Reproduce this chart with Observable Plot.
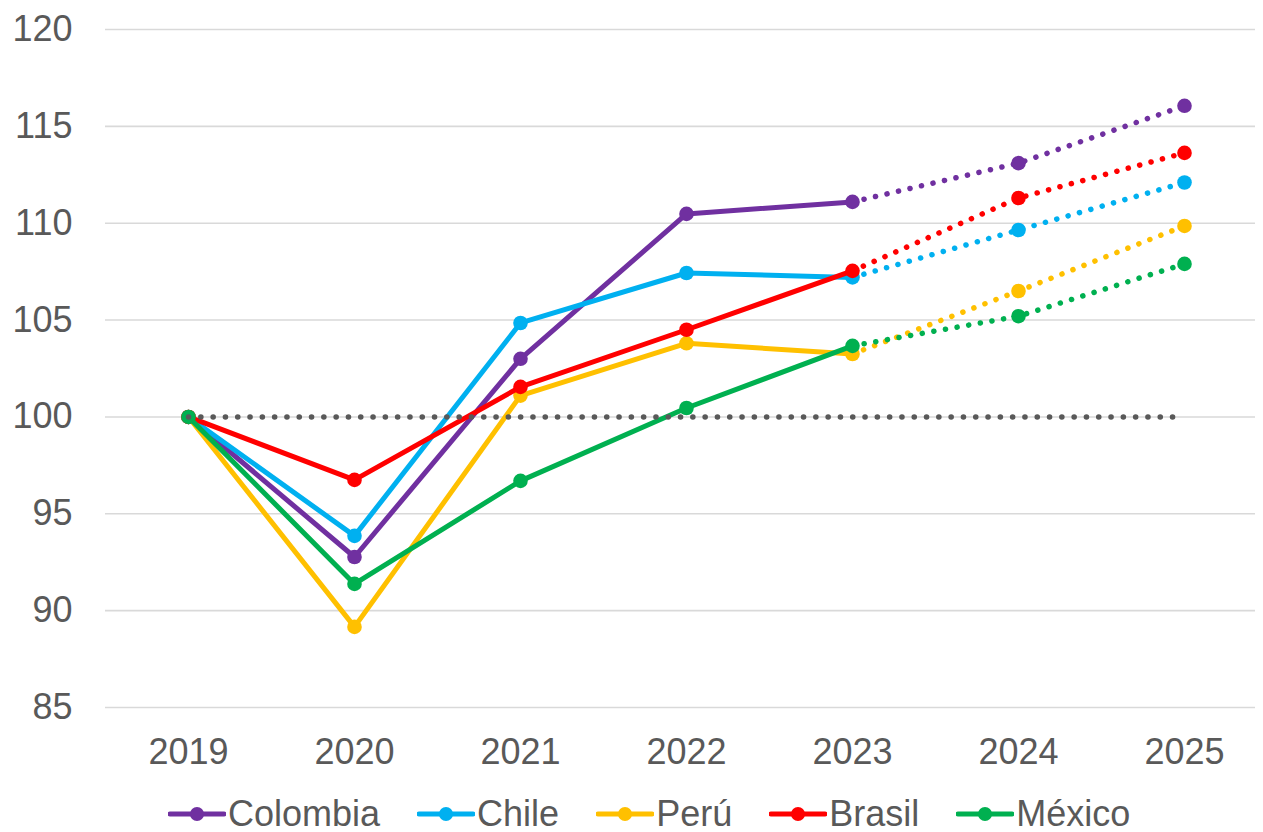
<!DOCTYPE html>
<html>
<head>
<meta charset="utf-8">
<script src="https://cdn.jsdelivr.net/npm/d3@7"></script>
<script src="https://cdn.jsdelivr.net/npm/@observablehq/plot@0.6"></script>
<style>
  html, body { margin: 0; padding: 0; background: #fff; overflow: hidden; }
  #chart { width: 1263px; height: 832px; font-family: "Liberation Sans", Arial, sans-serif; }
  #legend { display: flex; align-items: center; gap: 37px; margin-left: 168px; padding-top: 13px; height: 32px;
            font-size: 36px; line-height: 32px; color: #595959; font-family: "Liberation Sans", Arial, sans-serif; }
  .item { display: flex; align-items: center; gap: 2px; white-space: nowrap; }
  .item svg { display: block; }
</style>
</head>
<body>
<div id="chart"></div>
<script>
// ---- Data ----
const years = ["2019", "2020", "2021", "2022", "2023", "2024", "2025"];
const countries = ["Colombia", "Chile", "Perú", "Brasil", "México"];
const colombia = [100, 92.77, 103.0, 110.48, 111.1, 113.1, 116.06];
const chile    = [100, 93.86, 104.85, 107.43, 107.2, 109.65, 112.1];
const peru     = [100, 89.16, 101.1, 103.8, 103.25, 106.5, 109.86];
const brasil   = [100, 96.75, 101.55, 104.5, 107.54, 111.3, 113.63];
const mexico   = [100, 91.38, 96.7, 100.46, 103.67, 105.2, 107.9];
const baseline = 100;
const lastActualYear = "2023";
const yTicks = [85, 90, 95, 100, 105, 110, 115, 120];
const colors = ["#7030A0", "#00B0F0", "#FFC000", "#FF0000", "#00B050"];

const seriesValues = [colombia, chile, peru, brasil, mexico];
const lastIdx = years.indexOf(lastActualYear);

const rows = [];
countries.forEach((c, k) => {
  years.forEach((y, i) => rows.push({country: c, year: y, value: seriesValues[k][i], i}));
});
const baseRows = years.map(y => ({year: y, value: baseline}));

const marks = [
  Plot.ruleY(yTicks, {stroke: "#d9d9d9", strokeWidth: 1.6}),
  Plot.axisY({ticks: yTicks, tickSize: 0, tickPadding: 33, fontSize: 36, fill: "#595959", label: null}),
  Plot.axisX({tickSize: 0, tickPadding: 31, fontSize: 36, fill: "#595959", label: null})
];

countries.forEach((c, k) => {
  const d = rows.filter(r => r.country === c);
  marks.push(
    Plot.line(d.filter(r => r.i >= lastIdx), {x: "year", y: "value", stroke: colors[k], strokeWidth: 5.5,
      strokeDasharray: "0.1 11.7", strokeLinecap: "round"}),
    Plot.line(d.filter(r => r.i <= lastIdx), {x: "year", y: "value", stroke: colors[k], strokeWidth: 5, strokeLinecap: "round", strokeLinejoin: "round"}),
    Plot.dot(d, {x: "year", y: "value", r: 7.3, fill: colors[k], stroke: "none"})
  );
});

marks.push(Plot.line(baseRows, {x: "year", y: "value", stroke: "#595959", strokeWidth: 5.5,
  strokeDasharray: "0.1 12.2", strokeLinecap: "round"}));

const chart = Plot.plot({
  width: 1263,
  height: 785,
  marginTop: 29,
  marginBottom: 78,
  marginLeft: 105,
  marginRight: 8,
  style: {fontFamily: "'Liberation Sans', Arial, sans-serif", fontSize: "36px", color: "#595959", background: "#fff"},
  x: {type: "point", domain: years, range: [187, 1185], padding: 0},
  y: {domain: [85, 120]},
  marks
});

const root = document.getElementById("chart");
root.appendChild(chart);

const legend = document.createElement("div");
legend.id = "legend";
countries.forEach((c, k) => {
  const item = document.createElement("div");
  item.className = "item";
  item.innerHTML = `<svg width="58" height="20"><line x1="2" y1="10" x2="56" y2="10" stroke="${colors[k]}" stroke-width="5" stroke-linecap="round"/><circle cx="29" cy="10" r="7" fill="${colors[k]}"/></svg><span>${c}</span>`;
  legend.appendChild(item);
});
root.appendChild(legend);
</script>
</body>
</html>
